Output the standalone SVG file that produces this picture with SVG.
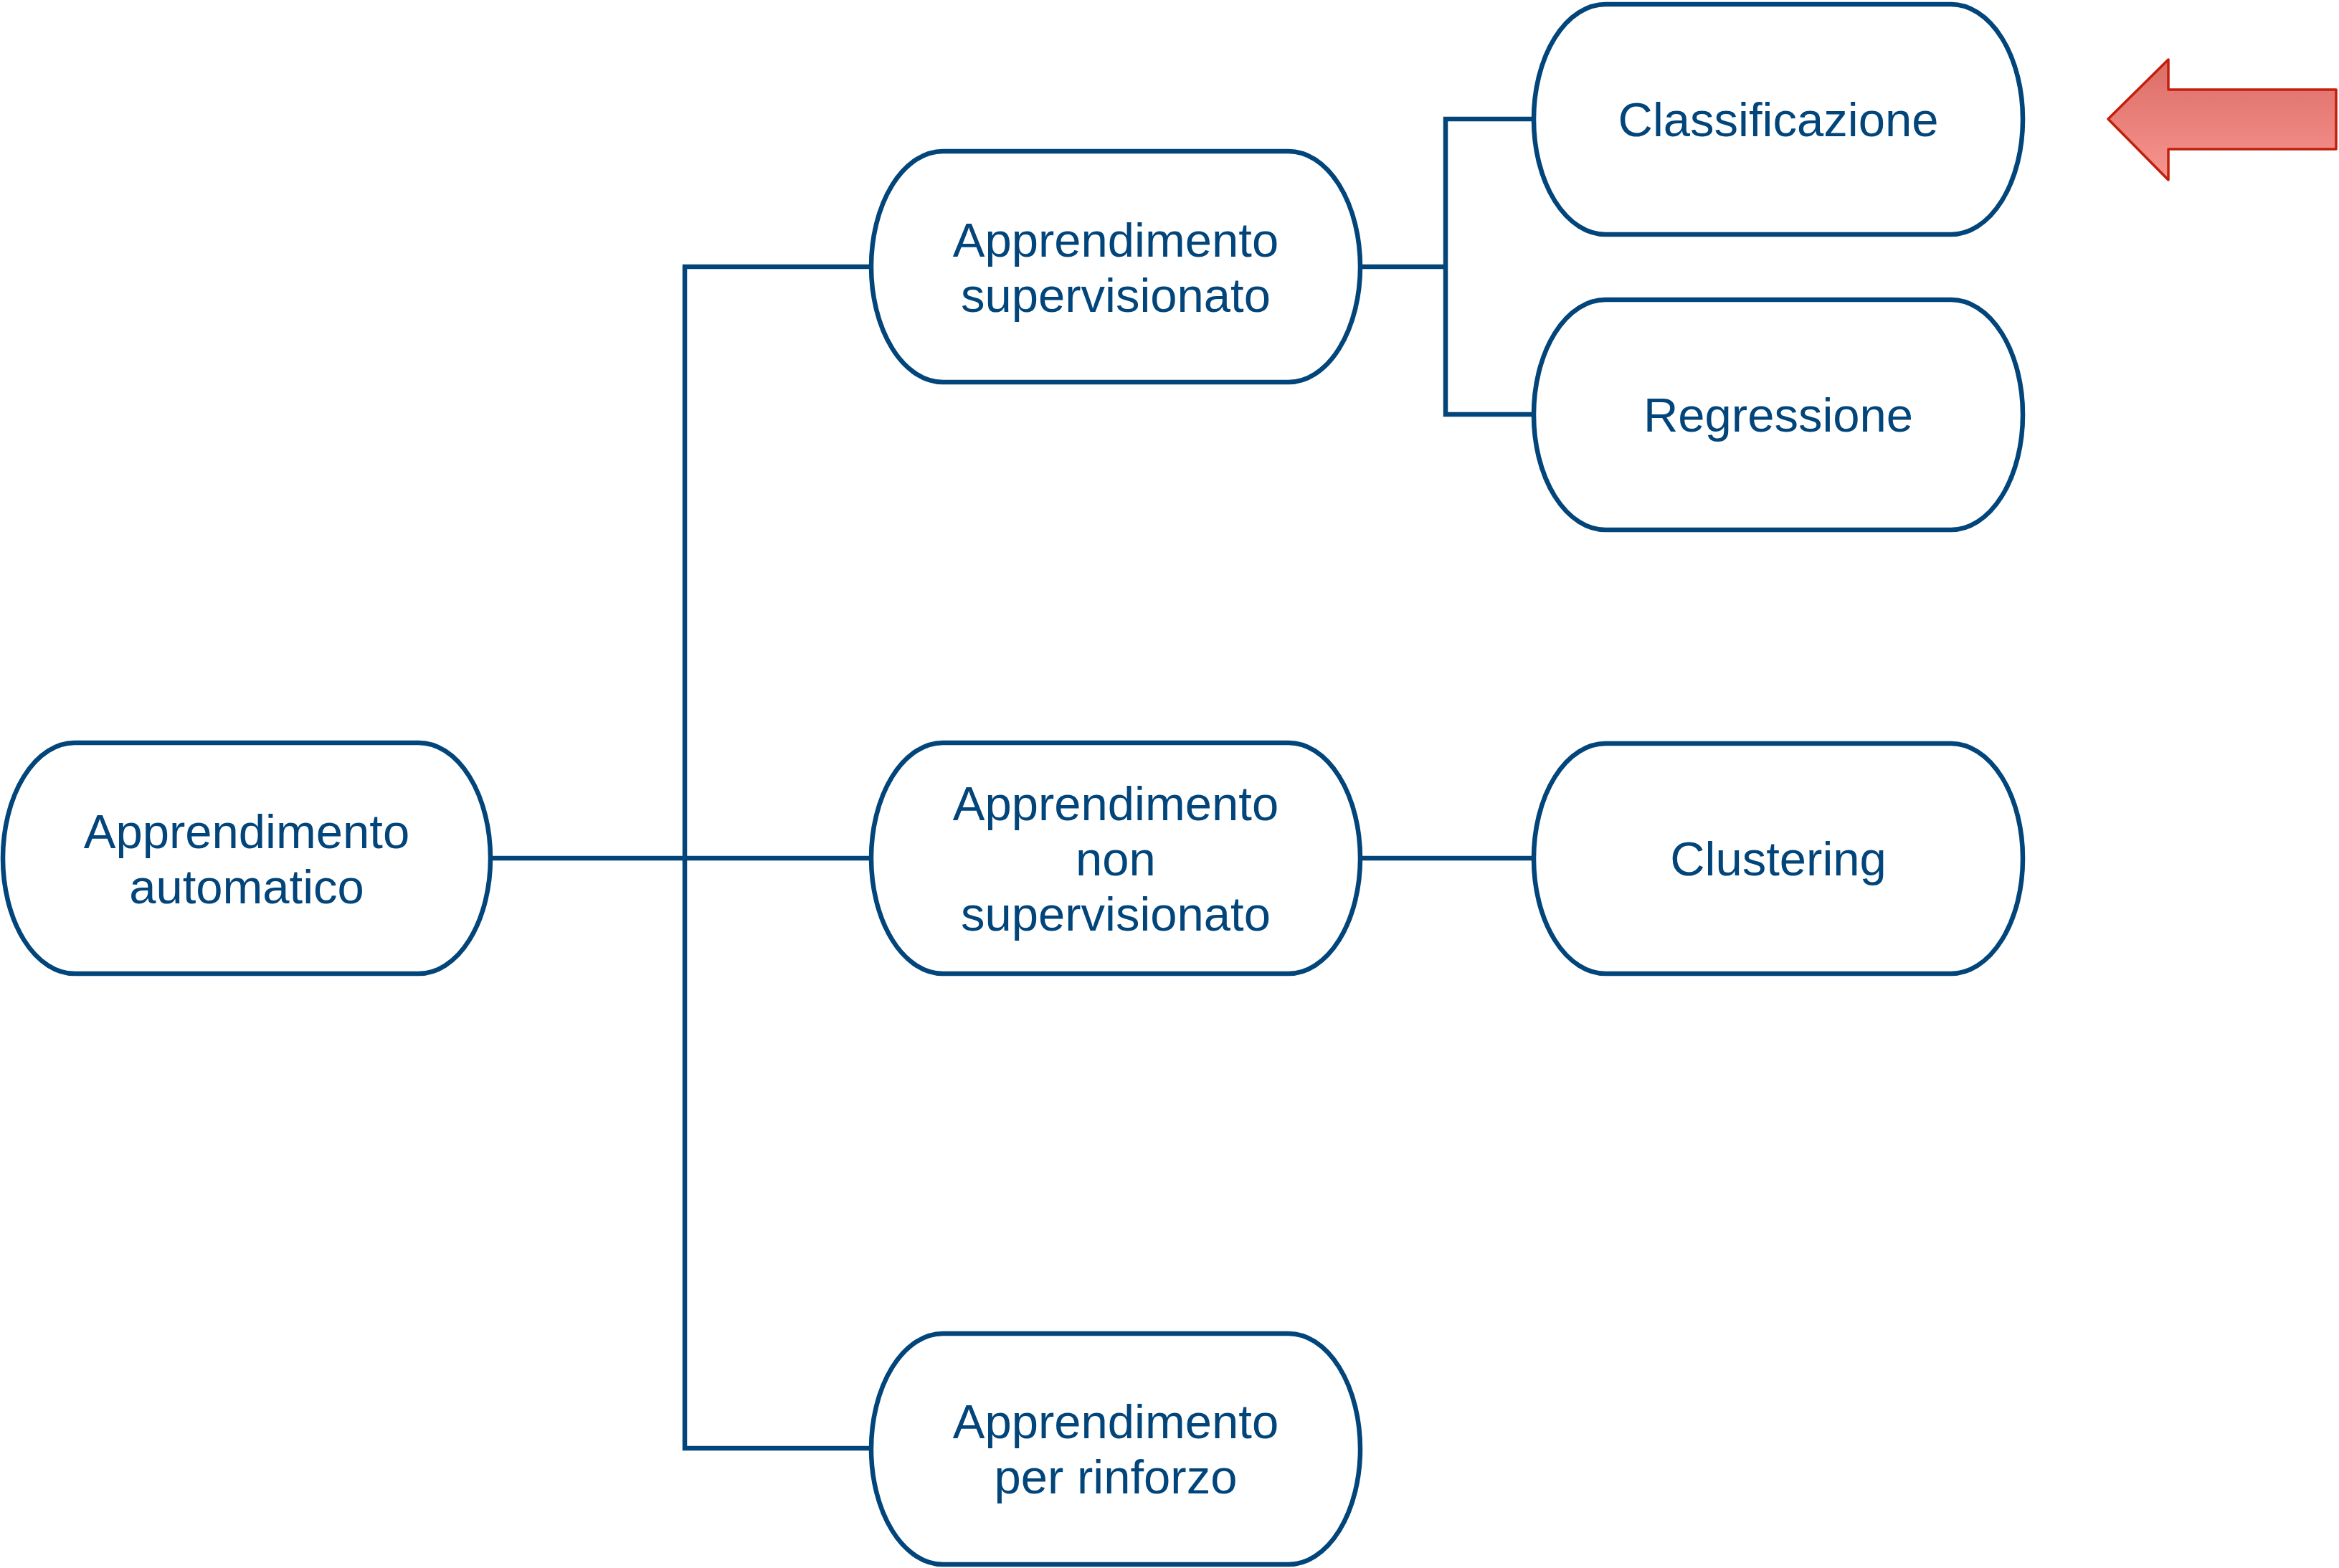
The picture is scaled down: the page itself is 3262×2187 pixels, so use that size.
<svg xmlns="http://www.w3.org/2000/svg" width="3262" height="2187" viewBox="0 0 3262 2187">
<defs>
<style>
.node rect{fill:#ffffff;stroke:#02457a;stroke-width:6.5}
.node text{font-family:"Liberation Sans",Arial,Helvetica,sans-serif;font-size:67px;fill:#02457a;text-anchor:middle}
.conn path{fill:none;stroke:#02457a;stroke-width:6.5;stroke-linejoin:miter}
</style>
<linearGradient id="ag" x1="0" y1="0" x2="0" y2="1">
<stop offset="0" stop-color="#dc6c66"/>
<stop offset="1" stop-color="#f7958f"/>
</linearGradient>
</defs>
<rect width="3262" height="2187" fill="#ffffff"/>
<g id="connectors" class="conn">
<path d="M684 1197 H1215"/>
<path d="M1215 372 H955 V2020 H1215"/>
<path d="M1897 372 H2016"/>
<path d="M2139 166 H2016 V578 H2139"/>
<path d="M1897 1197 H2139"/>
</g>
<g id="n-automatico" class="node">
<rect x="4" y="1036" width="680" height="322" rx="100" ry="161"/>
<text x="344" y="1183">Apprendimento</text>
<text x="344" y="1260">automatico</text>
</g>
<g id="n-supervisionato" class="node">
<rect x="1215" y="211" width="682" height="322" rx="100" ry="161"/>
<text x="1556" y="358">Apprendimento</text>
<text x="1556" y="435">supervisionato</text>
</g>
<g id="n-non-supervisionato" class="node">
<rect x="1215" y="1036" width="682" height="322" rx="100" ry="161"/>
<text x="1556" y="1144">Apprendimento</text>
<text x="1556" y="1221">non</text>
<text x="1556" y="1298">supervisionato</text>
</g>
<g id="n-rinforzo" class="node">
<rect x="1215" y="1860" width="682" height="322" rx="100" ry="161"/>
<text x="1556" y="2006">Apprendimento</text>
<text x="1556" y="2083">per rinforzo</text>
</g>
<g id="n-classificazione" class="node">
<rect x="2139" y="6" width="682" height="321" rx="100" ry="160"/>
<text x="2480" y="190">Classificazione</text>
</g>
<g id="n-regressione" class="node">
<rect x="2139" y="418" width="682" height="321" rx="100" ry="160"/>
<text x="2480" y="602">Regressione</text>
</g>
<g id="n-clustering" class="node">
<rect x="2139" y="1037" width="682" height="321" rx="100" ry="160"/>
<text x="2480" y="1221">Clustering</text>
</g>
<g id="pointer">
<polygon points="2940,166 3024,83 3024,125 3258,125 3258,208 3024,208 3024,251" fill="url(#ag)" stroke="#c21f0c" stroke-width="3.5" stroke-linejoin="round"/>
</g>
</svg>
